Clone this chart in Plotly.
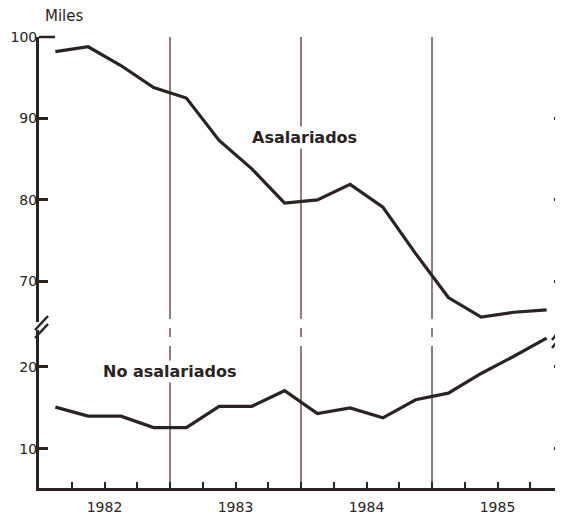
import plotly.graph_objects as go

# quarterly data, thousands (Miles)
quarters = [1982.125 + 0.25 * i for i in range(16)]
asalariados = [98.2, 98.8, 96.5, 93.8, 92.5, 87.3, 83.8, 79.6,
               80.0, 81.9, 79.1, 73.4, 68.0, 65.6, 66.2, 66.5]
no_asalariados = [15.1, 14.0, 14.0, 12.6, 12.6, 15.2, 15.2, 17.1,
                  14.3, 15.0, 13.8, 16.0, 16.8, 19.2, 21.3, 23.5]
years = ["1982", "1983", "1984", "1985"]
year_bounds = [1983, 1984, 1985]

INK = "#2b2222"
RULE = "#4e2222"
FONT = "DejaVu Sans"

fig = go.Figure()
fig.add_trace(go.Scatter(x=quarters, y=asalariados, yaxis="y2", mode="lines",
                         line=dict(color=INK, width=3.2), showlegend=False))
fig.add_trace(go.Scatter(x=quarters, y=no_asalariados, yaxis="y", mode="lines",
                         line=dict(color=INK, width=3.2), showlegend=False))

# x ticks at every quarter boundary, year label in the middle of each year
tickvals, ticktext = [], []
for k in range(1, 16):
    v = 1982 + 0.25 * k
    tickvals.append(v)
    ticktext.append(years[k // 4] if k % 4 == 2 else "")

# screen pixel -> paper (plot area on screen: x 39..563, y 37..488)
def py(p):
    return (488 - p) / 451

def px(p):
    return (p - 39) / 524

shapes = []
for xb in year_bounds:
    shapes.append(dict(type="line", xref="x", yref="paper", x0=xb, x1=xb,
                       y0=py(312), y1=1, line=dict(color=RULE, width=1.2), layer="below"))
    shapes.append(dict(type="line", xref="x", yref="paper", x0=xb, x1=xb,
                       y0=py(355), y1=py(312), line=dict(color=RULE, width=1.2, dash="dash"),
                       layer="below"))
    shapes.append(dict(type="line", xref="x", yref="paper", x0=xb, x1=xb,
                       y0=0, y1=py(355), line=dict(color=RULE, width=1.2), layer="below"))

# axis break marks
for dx0, dx1, ys in [(35, 48, [(330, 316), (338, 324)]), (552, 563, [(340, 326), (348, 334)])]:
    for ya, yb in ys:
        shapes.append(dict(type="line", xref="paper", yref="paper",
                           x0=px(dx0), x1=px(dx1), y0=py(ya), y1=py(yb),
                           line=dict(color=INK, width=2.5)))
# cap at 100
shapes.append(dict(type="line", xref="paper", yref="paper", x0=px(39), x1=px(55),
                   y0=1, y1=1, line=dict(color=INK, width=2.5)))

yax = dict(ticks="inside", ticklen=9, tickwidth=2.5, tickcolor=INK,
           showline=True, linecolor=INK, linewidth=3, mirror="ticks",
           showgrid=False, zeroline=False, anchor="x", automargin=False,
           ticklabelstandoff=-4, tickfont=dict(family=FONT, size=14, color=INK))

fig.update_layout(
    width=563, height=525,
    # page body adds 8px, so margins are shifted to keep the plot area in place
    margin=dict(l=31, r=8, t=29, b=45),
    paper_bgcolor="white", plot_bgcolor="white",
    font=dict(family=FONT, color=INK, size=14),
    xaxis=dict(range=[1982, 1986], tickvals=tickvals, ticktext=ticktext,
               ticks="inside", ticklen=6, tickwidth=1.5, tickcolor=INK,
               showline=True, linecolor=INK, linewidth=3, showgrid=False,
               zeroline=False, anchor="y", automargin=False, ticklabelstandoff=4,
               tickfont=dict(family=FONT, size=14, color=INK)),
    yaxis=dict(domain=[0, py(330)], range=[5.24, 24.5], tickvals=[10, 20], **yax),
    yaxis2=dict(domain=[py(322), 1], range=[65.0, 100], tickvals=[70, 80, 90, 100], **yax),
    shapes=shapes,
    annotations=[
        dict(text="Miles", xref="paper", yref="paper", x=px(64), y=py(16),
             xanchor="center", yanchor="middle", showarrow=False,
             font=dict(family=FONT, size=15, color=INK)),
        dict(text="<b>Asalariados</b>", xref="x", yref="y2", x=1984.03, y=87.7,
             showarrow=False, bgcolor="white",
             font=dict(family=FONT, size=16, color=INK)),
        dict(text="<b>No asalariados</b>", xref="x", yref="y", x=1983.0, y=19.4,
             showarrow=False, bgcolor="white",
             font=dict(family=FONT, size=16, color=INK)),
    ],
)

fig.write_html("out.html")
